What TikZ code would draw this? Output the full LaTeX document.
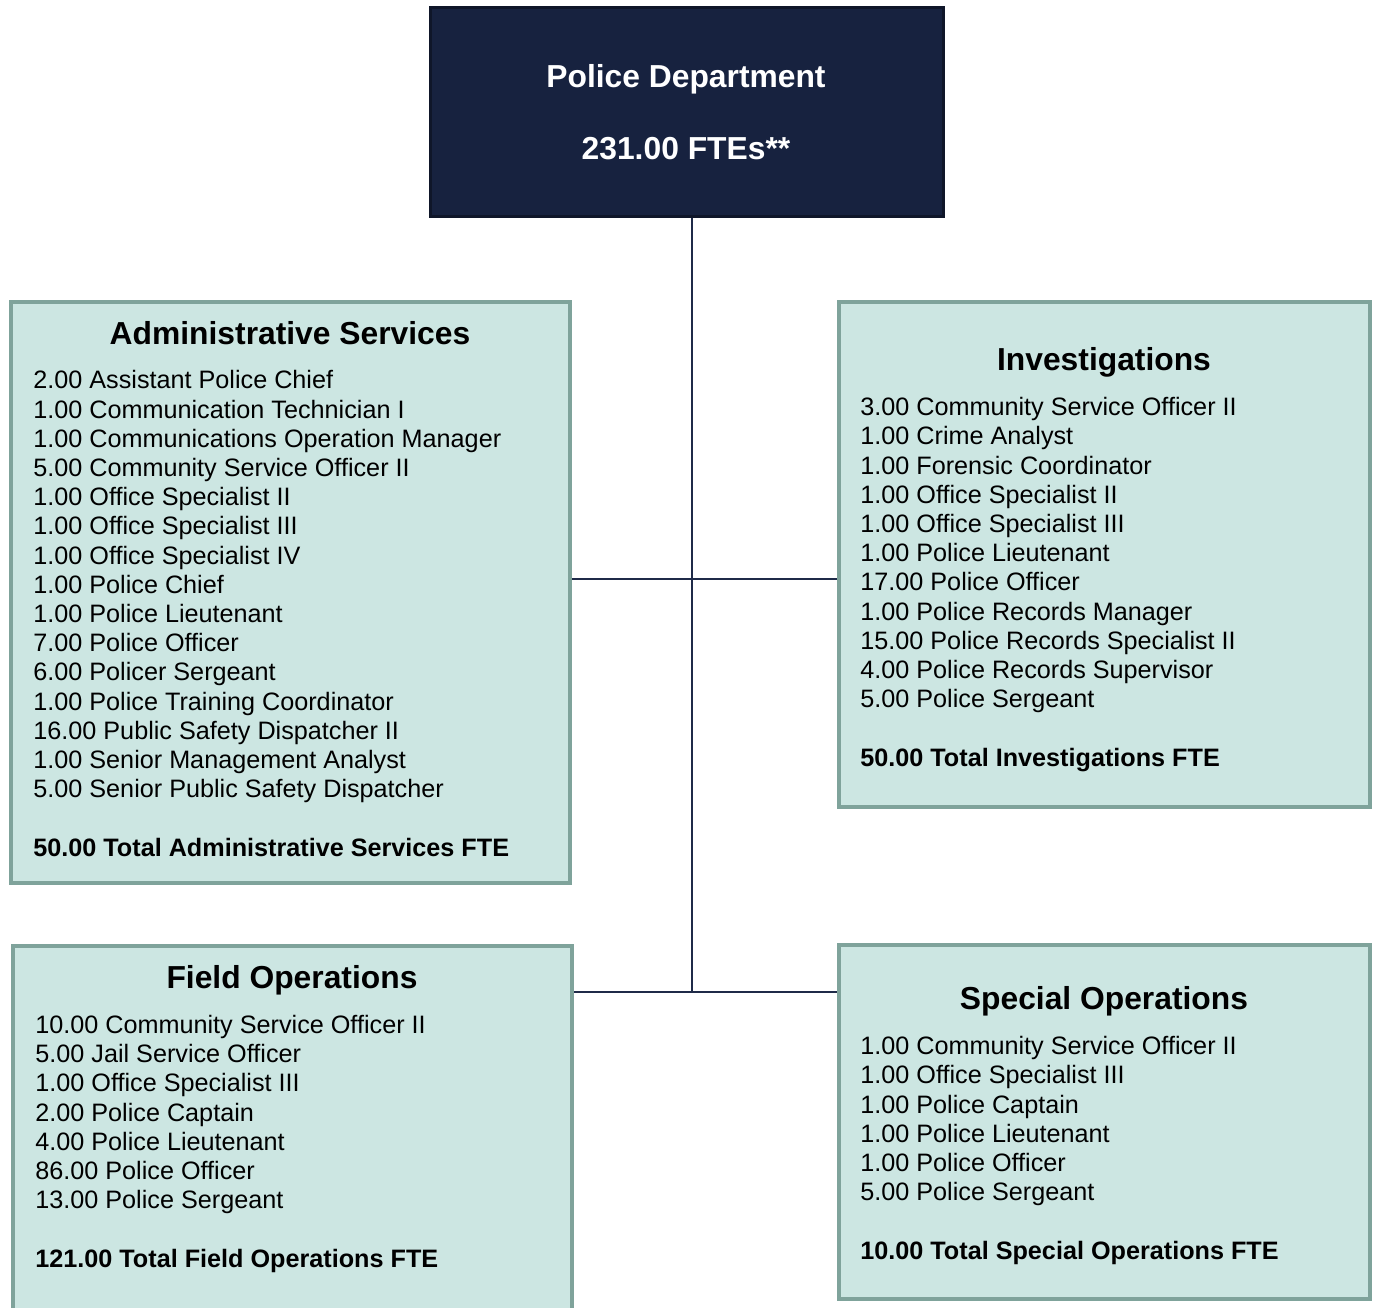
\documentclass[tikz,border=0pt]{standalone}
\usepackage{fontspec}
\setmainfont{Liberation Sans}
\usepackage{xcolor}
\definecolor{deptNavy}{HTML}{17223F}
\definecolor{deptEdge}{HTML}{0F1629}
\definecolor{unitFill}{HTML}{CCE6E2}
\definecolor{unitEdge}{HTML}{7FA39B}
\definecolor{linkNavy}{HTML}{1F2A48}

\tikzset{
  deptbox/.style={rectangle, draw=deptEdge, fill=deptNavy, line width=1.5pt, inner sep=0pt},
  unitbox/.style={rectangle, draw=unitEdge, fill=unitFill, line width=2pt, inner sep=0pt},
  depttext/.style={text=white, font=\fontsize{15.9}{19}\selectfont\bfseries, inner sep=0pt, anchor=base},
  unittitle/.style={font=\fontsize{15.9}{19}\selectfont\bfseries, inner sep=0pt, anchor=base},
  unitlist/.style={font=\fontsize{12.6}{14.6}\selectfont, align=left, inner sep=0pt, anchor=base west},
  link/.style={draw=linkNavy, line width=1pt}
}

\begin{document}
\begin{tikzpicture}[x=0.5pt, y=-0.5pt]
  \useasboundingbox[fill=white] (0,0) rectangle (1378,1308);
  \begin{scope}
  \clip (0,0) rectangle (1378,1308);
  % boxes
  \node[deptbox, minimum width=256.5pt, minimum height=104.5pt] (dept) at (686.5,111.5) {};
  \node[unitbox, minimum width=279.5pt, minimum height=290.5pt] (admin) at (290.5,592.5) {};
  \node[unitbox, minimum width=265.5pt, minimum height=252.5pt] (invest) at (1104.5,554.5) {};
  \node[unitbox, minimum width=279.5pt, minimum height=182pt] (field) at (292.5,1128) {};
  \node[unitbox, minimum width=265.5pt, minimum height=177pt] (special) at (1104.5,1122) {};
  \end{scope}

  % connectors
  \coordinate (hubA) at (692,579);
  \coordinate (hubB) at (692,992);
  \draw[link] (dept.south -| hubB) -- (hubB);
  \draw[link] (admin.east |- hubA) -- (invest.west |- hubA);
  \draw[link] (field.east |- hubB) -- (special.west |- hubB);

  % department
  \node[depttext] (deptName) at (686,87) {Police Department};
  \node[depttext] (deptFte) at (686,159) {231.00 FTEs**};

  % administrative services (anchored on the total line)
  \node[unittitle] (adminTitle) at (290,344) {Administrative Services};
  \node[unitlist] (adminList) at (33,856) {2.00 Assistant Police Chief\\
    1.00 Communication Technician I\\
    1.00 Communications Operation Manager\\
    5.00 Community Service Officer II\\
    1.00 Office Specialist II\\
    1.00 Office Specialist III\\
    1.00 Office Specialist IV\\
    1.00 Police Chief\\
    1.00 Police Lieutenant\\
    7.00 Police Officer\\
    6.00 Policer Sergeant\\
    1.00 Police Training Coordinator\\
    16.00 Public Safety Dispatcher II\\
    1.00 Senior Management Analyst\\
    5.00 Senior Public Safety Dispatcher\\[14.6pt]
    \textbf{50.00 Total Administrative Services FTE}};

  % investigations
  \node[unittitle] (investTitle) at (1104,370) {Investigations};
  \node[unitlist] (investList) at (860,766) {3.00 Community Service Officer II\\
    1.00 Crime Analyst\\
    1.00 Forensic Coordinator\\
    1.00 Office Specialist II\\
    1.00 Office Specialist III\\
    1.00 Police Lieutenant\\
    17.00 Police Officer\\
    1.00 Police Records Manager\\
    15.00 Police Records Specialist II\\
    4.00 Police Records Supervisor\\
    5.00 Police Sergeant\\[14.6pt]
    \textbf{50.00 Total Investigations FTE}};

  % field operations
  \node[unittitle] (fieldTitle) at (292,988) {Field Operations};
  \node[unitlist] (fieldList) at (35,1267) {10.00 Community Service Officer II\\
    5.00 Jail Service Officer\\
    1.00 Office Specialist III\\
    2.00 Police Captain\\
    4.00 Police Lieutenant\\
    86.00 Police Officer\\
    13.00 Police Sergeant\\[14.6pt]
    \textbf{121.00 Total Field Operations FTE}};

  % special operations
  \node[unittitle] (specialTitle) at (1104,1009) {Special Operations};
  \node[unitlist] (specialList) at (860,1259) {1.00 Community Service Officer II\\
    1.00 Office Specialist III\\
    1.00 Police Captain\\
    1.00 Police Lieutenant\\
    1.00 Police Officer\\
    5.00 Police Sergeant\\[14.6pt]
    \textbf{10.00 Total Special Operations FTE}};
\end{tikzpicture}
\end{document}
